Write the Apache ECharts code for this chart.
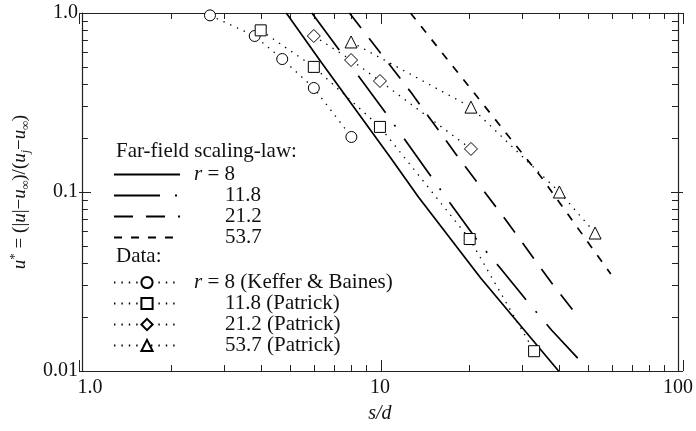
<!DOCTYPE html>
<html><head><meta charset="utf-8">
<script src="https://cdn.jsdelivr.net/npm/echarts@6/dist/echarts.min.js"></script>
<style>html,body{margin:0;padding:0;background:#fff}#c{width:696px;height:431px}</style>
</head><body><div id="c"></div>
<script>
// ---- tick values ----
const xMajorTicks = [1, 10, 100];
const xMinorTicks = [2, 3, 4, 5, 6, 7, 8, 9, 20, 30, 40, 50, 60, 70, 80, 90];
const yMajorTicks = [0.01, 0.1, 1];
const yMinorTicks = [0.02, 0.03, 0.04, 0.05, 0.06, 0.07, 0.08, 0.09, 0.2, 0.3, 0.4, 0.5, 0.6, 0.7, 0.8, 0.9];

// ---- far-field scaling-law curves [s/d, u*] ----
const fitNames = ['r = 8', '11.8', '21.2', '53.7'];
const fitR8    = [[4.85, 1.0], [6.38, 0.526], [10.87, 0.155], [13.46, 0.0938], [21.77, 0.0331], [39.75, 0.01]];
const fitR11_8 = [[5.91, 1.0], [8.52, 0.439], [10.71, 0.262], [17.18, 0.0868], [21.77, 0.0506], [25.16, 0.0381], [32.35, 0.0228], [37.69, 0.0169], [46.3, 0.0117]];
const fitR21_2 = [[7.9, 1.0], [12.76, 0.357], [18.27, 0.157], [26.14, 0.0716], [37.69, 0.031], [46.3, 0.020]];
const fitR53_7 = [[12.66, 1.0], [21.6, 0.327], [34.9, 0.120], [59.5, 0.0348]];

// ---- measured data [s/d, u*] ----
const dataNames = ['r = 8 (Keffer & Baines)', '11.8 (Patrick)', '21.2 (Patrick)', '53.7 (Patrick)'];
const dataKeffer8   = [[2.69, 0.97], [3.80, 0.744], [4.70, 0.553], [6.0, 0.381], [8.02, 0.203]];
const dataPatrick11 = [[3.98, 0.80], [6.0, 0.50], [10.0, 0.231], [20.0, 0.0546], [32.9, 0.0129]];
const dataPatrick21 = [[6.0, 0.744], [8.0, 0.546], [10.0, 0.417], [20.2, 0.174]];
const dataPatrick53 = [[8.0, 0.689], [20.2, 0.298], [40.0, 0.1], [52.7, 0.059]];

const FONT = 'Liberation Serif';
const INK = '#111';
const LEG_FS = 21;
const TICK_FS = 20;

const fitData = [fitR8, fitR11_8, fitR21_2, fitR53_7];
const fitDash = ['solid', [46, 15, 2, 15], [19, 13], [8, 9]];
const dataSets = [dataKeffer8, dataPatrick11, dataPatrick21, dataPatrick53];
const dataSymbols = ['circle', 'rect', 'diamond', 'triangle'];
const dataSizes = [11, 11, 13, 12];

function legendFmt(name) {
  if (name.indexOf('r = ') === 0) return '{s| }{i|r}' + name.slice(1);
  return '{q| }' + name;
}
const legendRich = {
  i: { fontStyle: 'italic', fontFamily: FONT, fontSize: LEG_FS, color: INK },
  s: { width: 9 },
  q: { width: 40 }
};

function xAxisDef(pos, ticks, len, main) {
  return {
    type: 'log', logBase: 10, min: 1, max: 100, gridIndex: main ? 0 : 1, position: pos,
    axisLine: { show: main, onZero: false, lineStyle: { color: '#222', width: 1.2 } },
    axisTick: { show: true, inside: true, length: len, customValues: ticks, lineStyle: { color: '#222', width: 1 } },
    axisLabel: { show: false },
    splitLine: { show: false }, minorTick: { show: false }
  };
}
function yAxisDef(pos, ticks, len, main) {
  return {
    type: 'log', logBase: 10, min: 0.01, max: 1, gridIndex: main ? 0 : 1, position: pos,
    axisLine: { show: main, onZero: false, lineStyle: { color: '#222', width: 1.2 } },
    axisTick: { show: true, inside: true, length: len, customValues: ticks, lineStyle: { color: '#222', width: 1 } },
    axisLabel: { show: false },
    splitLine: { show: false }, minorTick: { show: false }
  };
}

const xAxes = [
  xAxisDef('bottom', xMinorTicks, 6, true),
  xAxisDef('top', xMinorTicks, 6, true),
  xAxisDef('bottom', xMajorTicks, 11, false),
  xAxisDef('top', xMajorTicks, 11, false)
];
Object.assign(xAxes[0], {
  name: 's/d', nameLocation: 'middle', nameGap: 33,
  nameTextStyle: { fontFamily: FONT, fontSize: 20, fontStyle: 'italic', color: INK }
});
xAxes[0].axisLabel = {
  show: true, showMinLabel: true, showMaxLabel: true, margin: 7,
  fontFamily: FONT, fontSize: TICK_FS, color: INK,
  formatter: v => (Math.abs(v - 1) < 1e-9 ? '{f|1.0}' : String(Math.round(v))),
  rich: { f: { fontFamily: FONT, fontSize: TICK_FS, color: INK, padding: [0, 0, 0, 16] } }
};

const yAxes = [
  yAxisDef('left', yMinorTicks, 6, true),
  yAxisDef('right', yMinorTicks, 6, true),
  yAxisDef('left', yMajorTicks, 12, false),
  yAxisDef('right', yMajorTicks, 12, false)
];
Object.assign(yAxes[0], {
  name: '{i|u}{sup|*} = (|{i|u}|−{i|u}{sub|∞})/({i|u}{sub|j}−{i|u}{sub|∞})',
  nameLocation: 'middle', nameGap: 47,
  nameTextStyle: {
    fontFamily: FONT, fontSize: 19, color: INK, lineHeight: 24,
    rich: {
      i: { fontStyle: 'italic', fontFamily: FONT, fontSize: 19, color: INK, lineHeight: 24 },
      sup: { fontFamily: FONT, fontSize: 13, color: INK, verticalAlign: 'top', lineHeight: 13 },
      sub: { fontStyle: 'italic', fontFamily: FONT, fontSize: 12, color: INK, verticalAlign: 'bottom', lineHeight: 12 }
    }
  }
});
yAxes[0].axisLabel = {
  show: true, showMinLabel: true, showMaxLabel: true, margin: 4,
  fontFamily: FONT, fontSize: TICK_FS, color: INK,
  formatter: v => (Math.abs(v - 1) < 1e-9 ? '1.0' : String(+v.toPrecision(3)))
};

const series = [];
fitNames.forEach((n, k) => {
  series.push({
    name: n, type: 'line', data: fitData[k], xAxisIndex: 0, yAxisIndex: 0,
    symbol: 'none', smooth: false, animation: false, silent: true,
    lineStyle: { color: '#000', width: 1.7, type: fitDash[k] },
    itemStyle: { color: '#000' }
  });
});
dataNames.forEach((n, k) => {
  series.push({
    name: n, type: 'line', data: dataSets[k], xAxisIndex: 0, yAxisIndex: 0,
    symbol: dataSymbols[k], symbolSize: dataSizes[k], animation: false, silent: true,
    lineStyle: { color: '#000', width: 1.3, type: [1.4, 6] },
    itemStyle: { color: '#fff', borderColor: '#000', borderWidth: 1 },
    z: 3
  });
});

const option = {
  backgroundColor: '#fff',
  animation: false,
  grid: [
    { left: 79, right: 13, top: 13, bottom: 60, containLabel: false },
    { left: 79, right: 13, top: 13, bottom: 60, containLabel: false }
  ],
  xAxis: xAxes,
  yAxis: yAxes,
  title: [
    { text: 'Far-field scaling-law:', left: 116, top: 141, padding: 0,
      textStyle: { fontFamily: FONT, fontSize: LEG_FS, fontWeight: 'normal', color: INK } },
    { text: 'Data:', left: 116, top: 246, padding: 0,
      textStyle: { fontFamily: FONT, fontSize: LEG_FS, fontWeight: 'normal', color: INK } }
  ],
  legend: [
    { data: fitNames, orient: 'vertical', left: 113, top: 164, padding: 0,
      itemWidth: 66, itemHeight: 14, itemGap: 0, selectedMode: false,
      formatter: legendFmt,
      itemStyle: { opacity: 0, color: 'transparent', borderWidth: 0 },
      textStyle: { fontFamily: FONT, fontSize: LEG_FS, color: INK, lineHeight: 20, rich: legendRich } },
    { data: dataNames, orient: 'vertical', left: 113, top: 272, padding: 0,
      itemWidth: 66, itemHeight: 14, itemGap: 0, selectedMode: false,
      formatter: legendFmt,
      textStyle: { fontFamily: FONT, fontSize: LEG_FS, color: INK, lineHeight: 20, rich: legendRich } }
  ],
  series: series
};

const chart = echarts.init(document.getElementById('c'), null, { renderer: 'canvas' });
chart.setOption(option);
</script>
</body></html>
